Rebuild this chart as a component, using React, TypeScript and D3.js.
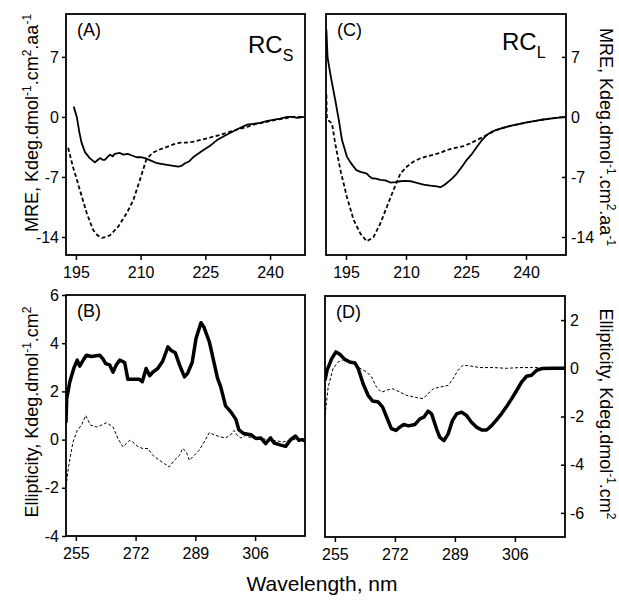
import React, { useEffect, useRef } from 'react';
import * as d3 from 'd3';

type Pt = [number, number];

// (A) far-UV, RCs : [wavelength nm, MRE]
const farSolidS: Pt[] = [
  [194.5, 1.2], [195.2, 0], [195.8, -1.8], [196.3, -3.0], [197.1, -4.1], [198.2, -4.8], [199.4, -5.3],
  [200.1, -5.0], [200.6, -4.8], [201.2, -5.0], [201.7, -5.0], [202.3, -4.7], [202.9, -4.4], [203.5, -4.6],
  [204, -4.3], [205.2, -4.2], [206, -4.4], [207, -4.3], [208, -4.5], [209.1, -4.7], [210, -4.7], [211, -4.8],
  [212.4, -5.1], [213.8, -5.4], [216.1, -5.6], [218.7, -5.8], [219.5, -5.7], [220.3, -5.4], [221.2, -5.2],
  [222.2, -4.7], [223.3, -4.3], [224.5, -3.9], [226, -3.4], [227.7, -2.7], [229.5, -2.2], [231.4, -1.7],
  [233, -1.3], [234.7, -0.9], [236.2, -0.8], [237.7, -0.7], [239.2, -0.5], [240.7, -0.35], [242.3, -0.2],
  [244, 0], [245.2, 0], [246.3, -0.1], [247.9, 0],
];
const farDashedS: Pt[] = [
  [193.2, -3.6], [194.3, -5.8], [195.1, -7.1], [195.9, -8.5], [197.5, -11.2], [199, -13.2], [200, -13.8],
  [201, -14.1], [202, -14.0], [202.9, -13.8], [204.8, -12.8], [206.8, -11.2], [208.3, -9.7], [209.8, -7.4],
  [211.3, -5.0], [212.7, -4.2], [214.4, -3.8], [216.1, -3.5], [217.6, -3.2], [219.1, -3.0], [220.6, -3.0],
  [222.1, -2.9], [225.4, -2.5], [228.4, -2.1], [231.4, -1.6], [234.7, -1.15], [236.5, -0.85], [238.5, -0.65],
  [240.7, -0.4], [243, -0.2], [245, 0], [247.9, 0],
];

// (C) far-UV, RCl
const farSolidL: Pt[] = [
  [190.1, 10.2], [190.4, 6.9], [191.2, 4.7], [192.3, 2.0], [193.2, -0.35], [194, -2.7], [195.2, -4.6],
  [196.1, -5.3], [196.9, -5.8], [197.6, -6.2], [198.6, -6.4], [199.4, -6.5], [200.2, -6.6], [200.8, -6.9],
  [201.5, -7.15], [202.5, -7.2], [203.6, -7.35], [204.8, -7.4], [206.1, -7.65], [207.3, -7.6], [208.6, -7.5],
  [209.8, -7.45], [211.1, -7.5], [212.7, -7.7], [214.4, -7.9], [216, -8.0], [217.7, -8.1], [218.6, -8.2],
  [219.4, -8.0], [220.2, -7.7], [221.5, -7.2], [222.7, -6.6], [224, -5.8], [225.2, -5.0], [226.5, -4.3],
  [227.7, -3.5], [229, -2.7], [230.2, -2.1], [231.5, -1.7], [232.7, -1.5], [234.4, -1.25], [236.1, -1.05],
  [238.1, -0.85], [240.2, -0.65], [242.3, -0.45], [244.4, -0.3], [247, -0.15], [249.8, 0],
];
const farDashedL: Pt[] = [
  [190.1, 2.6], [190.2, 0], [190.8, -0.5], [191.5, -0.75], [192.3, -3.1], [193.6, -6.2], [195.2, -9.3],
  [196.9, -12], [198.6, -13.6], [200.2, -14.5], [201.9, -14.0], [203.6, -12.4], [205.2, -10.5], [206.9, -8.5],
  [208.6, -6.6], [210.2, -5.8], [211.9, -5.2], [213.5, -4.85], [215.2, -4.6], [218.6, -4.2], [220.2, -3.85],
  [222.3, -3.6], [224.4, -3.4], [226, -3.1], [227.7, -2.7], [229, -2.4], [230.2, -2.1], [232.7, -1.5],
  [236.1, -1.05], [240.2, -0.65], [244.4, -0.3], [249.8, 0],
];

// (B) near-UV, RCs : [wavelength nm, ellipticity]
const nearSolidS: Pt[] = [
  [252.2, 0.7], [252.4, 1.7], [253.3, 2.4], [254.4, 2.95], [255.4, 3.3], [256.1, 3.05], [257.1, 3.3], [258, 3.5],
  [259.4, 3.45], [261.8, 3.5], [262.7, 3.35], [263.5, 3.15], [264.6, 3.1], [265.6, 2.8], [266.5, 3.1],
  [267.5, 3.3], [268.9, 3.2], [269.8, 2.5], [271.2, 2.5], [273.1, 2.5], [273.9, 2.4], [275, 2.95], [276, 2.65],
  [276.9, 2.8], [278.3, 2.95], [279.7, 3.25], [281.2, 3.85], [282.1, 3.7], [283.3, 3.6], [284.5, 3.1],
  [285.9, 2.6], [286.8, 2.75], [288.1, 3.2], [289.2, 4.2], [290.6, 4.85], [291.5, 4.65], [293, 4.05],
  [294.3, 3.2], [295.3, 2.55], [296.2, 2.2], [297.6, 1.4], [299.1, 1.15], [300.5, 0.85], [301.4, 0.4],
  [302.8, 0.25], [304.8, 0.2], [306.2, 0.05], [307.6, 0.07], [309, -0.17], [310.4, 0.07], [311.4, -0.14],
  [313.3, -0.23], [314.7, -0.28], [316.1, 0.0], [317.5, 0.15], [318.5, -0.03], [319.4, 0.0], [320.2, -0.05],
];
const nearDashedS: Pt[] = [
  [252.2, -1.95], [253, -1.06], [254.2, -0.1], [255.4, 0.38], [256.6, 0.6], [257.8, 1.0], [259.2, 0.6],
  [260.9, 0.52], [262.3, 0.6], [263.7, 0.7], [265.6, 0.52], [267, 0.04], [268.4, -0.3], [270.3, -0.03],
  [271.2, -0.1], [272.7, -0.3], [274.1, -0.37], [275.5, -0.37], [276.9, -0.65], [278.8, -0.86], [280.2, -1.0],
  [281.6, -1.13], [283, -0.86], [284.5, -0.65], [285.4, -0.37], [286.4, -0.5], [287.3, -0.86], [288.7, -0.65],
  [290.1, -0.44], [291.5, -0.1], [293, 0.29], [294.3, 0.2], [296.2, 0.11], [297.6, 0.07], [299.1, 0.2],
  [300, 0.38], [300.9, 0.18], [301.9, 0.07], [303.3, 0.18], [304.8, 0.07], [307, 0.05], [310, 0],
  [314, -0.1], [317, 0], [320.2, 0],
];

// (D) near-UV, RCl
const nearSolidL: Pt[] = [
  [252.2, -0.5], [252.8, -0.08], [254.1, 0.4], [255.3, 0.68], [256.4, 0.58], [257.8, 0.37], [259.2, 0.26],
  [260.7, 0.22], [261.6, -0.01], [263, -0.64], [264.4, -1.12], [265.7, -1.36], [267.3, -1.4], [268.5, -1.6],
  [269.6, -2.0], [271, -2.5], [272.3, -2.58], [273.4, -2.44], [274.5, -2.33], [275.8, -2.39], [277.7, -2.33],
  [279.1, -2.1], [280.2, -2.03], [281.4, -1.78], [282.4, -1.89], [283.8, -2.51], [284.7, -2.86], [285.9, -3.0],
  [287.1, -2.72], [288.3, -2.17], [289.5, -1.89], [290.9, -1.82], [292.3, -1.96], [293.7, -2.24],
  [295.1, -2.44], [296.6, -2.56], [298, -2.56], [299.4, -2.38], [300.8, -2.14], [302.2, -1.89], [303.6, -1.6],
  [305.1, -1.26], [306.5, -0.92], [307.9, -0.57], [309.3, -0.33], [310.7, -0.29], [312.2, -0.08],
  [313.6, -0.01], [316.9, 0], [320.2, 0],
];
const nearDashedL: Pt[] = [
  [252.2, -1.96], [253.1, -0.78], [254.5, 0], [255.9, 0.26], [257.4, 0.36], [259, 0.25], [260.7, 0.2],
  [262.1, 0], [264, -0.15], [265.4, -0.36], [266.8, -0.78], [268.2, -0.99], [270.1, -0.89], [271.5, -0.85],
  [273.4, -0.99], [275.3, -1.12], [277.7, -1.2], [280, -1.26], [281.4, -1.05], [282.9, -0.85], [284.7, -0.78],
  [287.1, -0.71], [288.5, -0.43], [289.9, -0.08], [291.3, 0.13], [293.2, 0.1], [296.1, 0.03], [299.8, 0.03],
  [303.6, 0], [307.4, 0.03], [311.1, 0.03], [314.9, 0.03], [320.2, 0],
];

const farXTicks = [195, 210, 225, 240];
const farYTicks = [-14, -7, 0, 7];
const nearXTicks = [255, 272, 289, 306];
const nearYTicksS = [-4, -2, 0, 2, 4, 6];
const nearYTicksL = [-6, -4, -2, 0, 2];

const font = "'Liberation Sans', Arial, Helvetica, sans-serif";

const App = () => {
  const svgRef = useRef<SVGSVGElement>(null);

  useEffect(() => {
    const svg = d3.select(svgRef.current);
    svg.selectAll("*").remove();

    const panels = [
      { tag: "(A)", xd: [192.7, 248.1], yd: [-16.1, 12], box: [66, 305, 14, 255], xt: farXTicks, yt: farYTicks, right: false, thick: false, solid: farSolidS, dashed: farDashedS },
      { tag: "(C)", xd: [190, 250], yd: [-16.1, 12], box: [326, 566, 14, 255], xt: farXTicks, yt: farYTicks, right: true, thick: false, solid: farSolidL, dashed: farDashedL },
      { tag: "(B)", xd: [252.2, 320.2], yd: [-4, 6], box: [66, 305, 295, 536], xt: nearXTicks, yt: nearYTicksS, right: false, thick: true, solid: nearSolidS, dashed: nearDashedS },
      { tag: "(D)", xd: [252.2, 320.2], yd: [-7, 3], box: [325, 565, 296, 537], xt: nearXTicks, yt: nearYTicksL, right: true, thick: true, solid: nearSolidL, dashed: nearDashedL },
    ];

    panels.forEach((p, i) => {
      const [x0, x1, y0, y1] = p.box;
      const x = d3.scaleLinear().domain(p.xd).range([x0, x1]);
      const y = d3.scaleLinear().domain(p.yd).range([y1, y0]);

      svg.append("clipPath").attr("id", `clip${i}`)
        .append("rect").attr("x", x0).attr("y", y0).attr("width", x1 - x0).attr("height", y1 - y0);

      const line = d3.line<Pt>().x(d => x(d[0])).y(d => y(d[1]));

      svg.append("path").datum(p.dashed)
        .attr("clip-path", `url(#clip${i})`)
        .attr("fill", "none").attr("stroke", "#000")
        .attr("stroke-width", p.thick ? 1 : 1.8)
        .attr("stroke-dasharray", p.thick ? "3,2" : "4,2.5")
        .attr("d", line);

      svg.append("path").datum(p.solid)
        .attr("clip-path", `url(#clip${i})`)
        .attr("fill", "none").attr("stroke", "#000")
        .attr("stroke-width", p.thick ? 3.5 : 1.8)
        .attr("stroke-linejoin", "round")
        .attr("d", line);

      const gx = svg.append("g")
        .attr("transform", `translate(0,${y1})`)
        .call(d3.axisBottom(x).tickValues(p.xt).tickSize(5).tickPadding(7).tickFormat(d => String(d)));

      const gy = svg.append("g")
        .attr("transform", `translate(${p.right ? x1 : x0},0)`)
        .call(p.right
          ? d3.axisRight(y).tickValues(p.yt).tickSize(-4).tickPadding(5).tickFormat(d => String(d))
          : d3.axisLeft(y).tickValues(p.yt).tickSize(4).tickPadding(3).tickFormat(d => String(d)));

      [gx, gy].forEach(g => {
        g.select(".domain").remove();
        g.selectAll("line").attr("stroke", "#000").attr("stroke-width", 1.5);
        g.selectAll("text").attr("fill", "#000").style("font-size", "16px").style("font-family", font);
      });

      svg.append("rect")
        .attr("x", x0).attr("y", y0).attr("width", x1 - x0).attr("height", y1 - y0)
        .attr("fill", "none").attr("stroke", "#000").attr("stroke-width", 1.8);

      svg.append("text")
        .attr("x", x0 + 11).attr("y", y0 + 22)
        .style("font-size", "18px").style("font-family", font)
        .text(p.tag);
    });

    // RC labels
    const rc = (xp: number, yp: number, sub: string) => {
      const t = svg.append("text").attr("x", xp).attr("y", yp)
        .style("font-family", font).style("font-size", "24px");
      t.append("tspan").text("RC");
      t.append("tspan").attr("dy", 8).style("font-size", "16px").text(sub);
    };
    rc(248, 53, "S");
    rc(502, 50, "L");

    // y-axis titles with superscripts
    const title = (xp: number, yp: number, rot: number, parts: [string, boolean][]) => {
      const t = svg.append("text")
        .attr("transform", `translate(${xp},${yp}) rotate(${rot})`)
        .attr("text-anchor", "middle")
        .style("font-family", font).style("font-size", "18px");
      let up = false;
      parts.forEach(([s, sup]) => {
        const sp = t.append("tspan").text(s);
        if (sup && !up) { sp.attr("dy", -7).style("font-size", "12px"); up = true; }
        else if (!sup && up) { sp.attr("dy", 7); up = false; }
        else if (sup) sp.style("font-size", "12px");
      });
    };
    const mre: [string, boolean][] = [["MRE, Kdeg.dmol", false], ["-1", true], [".cm", false], ["2", true], [".aa", false], ["-1", true]];
    const ell: [string, boolean][] = [["Ellipticity, Kdeg.dmol", false], ["-1", true], [".cm", false], ["2", true]];
    title(38, 123, -90, mre);
    title(38, 412, -90, ell);
    title(600, 137, 90, mre);
    title(600, 414, 90, ell);

    svg.append("text")
      .attr("x", 322).attr("y", 591).attr("text-anchor", "middle")
      .style("font-family", font).style("font-size", "21px")
      .text("Wavelength, nm");
  }, []);

  return <svg ref={svgRef} width={619} height={601} style={{ position: 'absolute', left: 0, top: 0, background: '#fff' }} />;
};

export default App;
